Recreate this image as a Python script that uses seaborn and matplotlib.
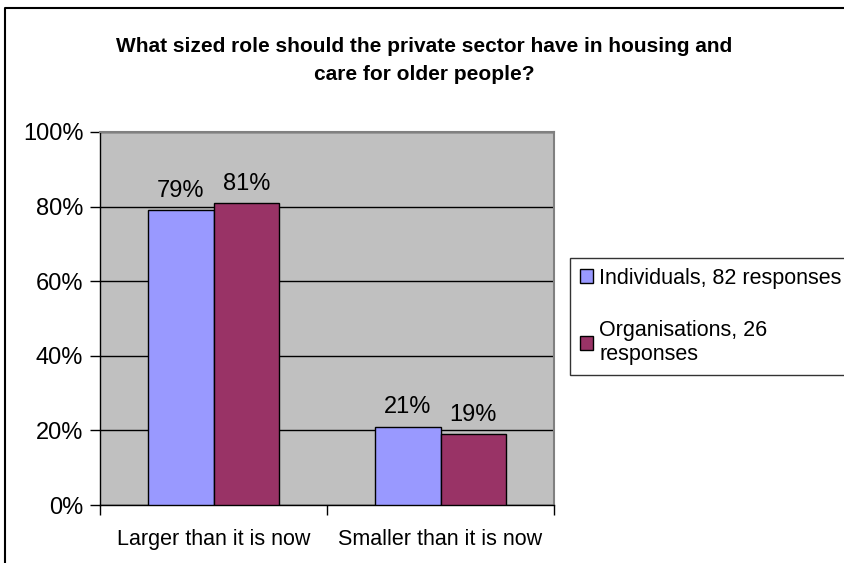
import matplotlib
matplotlib.use("Agg")
import matplotlib.pyplot as plt
import matplotlib.patches as mpatches
from matplotlib.lines import Line2D
from matplotlib.ticker import FuncFormatter
import seaborn as sns
import pandas as pd

# Survey results
categories = ["Larger than it is now", "Smaller than it is now"]
groups = ["Individuals, 82 responses", "Organisations, 26\nresponses"]
individuals = [0.79, 0.21]
organisations = [0.81, 0.19]
colors = ["#9999FF", "#993366"]
title = "What sized role should the private sector have in housing and\ncare for older people?"

df = pd.DataFrame({
    "answer": categories * 2,
    "group": [groups[0]] * 2 + [groups[1]] * 2,
    "share": individuals + organisations,
})

sns.set_style("white")
plt.rcParams["font.family"] = ["Liberation Sans", "DejaVu Sans"]
plt.rcParams["text.color"] = "black"
plt.rcParams["xtick.color"] = "black"
plt.rcParams["ytick.color"] = "black"
plt.rcParams["axes.labelcolor"] = "black"

W, H = 845, 563
fig = plt.figure(figsize=(W / 100, H / 100), dpi=100)
ax = fig.add_axes([100 / W, (H - 505) / H, (554 - 100) / W, (505 - 132) / H])

sns.barplot(data=df, x="answer", y="share", hue="group", order=categories,
            hue_order=groups, palette=colors, saturation=1, width=0.58, gap=0,
            edgecolor="black", linewidth=1, ax=ax, legend=False, zorder=3)

ax.set_facecolor("#C0C0C0")
ax.set_xlim(-0.5, 1.5)
ax.set_ylim(0, 1)
ax.set_yticks([0, 0.2, 0.4, 0.6, 0.8, 1.0])
ax.yaxis.set_major_formatter(FuncFormatter(lambda v, _: f"{v * 100:.0f}%"))
ax.yaxis.grid(True, color="black", linewidth=1, zorder=1)
ax.set_axisbelow(True)
ax.set_xlabel("")
ax.set_ylabel("")

ax.set_xticks([0, 1])
ax.set_xticklabels(categories, fontsize=15.5, color="black")
ax.set_xticks([-0.5, 0.5, 1.5], minor=True)
ax.tick_params(axis="x", which="major", length=0, pad=17, labelcolor="black")
ax.tick_params(axis="x", which="minor", length=7, width=1, color="black",
               direction="out", bottom=True)
ax.tick_params(axis="y", length=7, width=1, color="black", direction="out",
               left=True, labelsize=17, pad=5, labelcolor="black")

for side in ("left", "bottom"):
    ax.spines[side].set_color("black")
    ax.spines[side].set_linewidth(1)
for side in ("top", "right"):
    ax.spines[side].set_color("#808080")
    ax.spines[side].set_linewidth(1.5)

# Value labels above each bar
for container in ax.containers:
    ax.bar_label(container, labels=[f"{v * 100:.0f}%" for v in container.datavalues],
                 padding=6, fontsize=17, color="black")

fig.suptitle(title, x=(118 + 730) / 2 / W, y=1 - 37 / H, fontsize=15,
             fontweight="bold", linespacing=1.6, va="top", color="black")

handles = [mpatches.Patch(facecolor=c, edgecolor="black", linewidth=1) for c in colors]
leg = fig.legend(handles, groups, loc="upper left",
                 bbox_to_anchor=(570 / W, 1 - 258 / H), fontsize=15.5,
                 frameon=True, fancybox=False, edgecolor="black",
                 handlelength=0.6, handleheight=0.6, handletextpad=0.3,
                 labelspacing=1.45, borderpad=0.45, borderaxespad=0,
                 labelcolor="black")
leg.get_frame().set_linewidth(1)

# Outer chart frame (left and top edges; the rest runs off the canvas)
frame = Line2D([5 / W, 5 / W, 1.2], [-0.2, 1 - 8 / H, 1 - 8 / H],
               transform=fig.transFigure, color="black", linewidth=1.5)
fig.add_artist(frame)

fig.savefig("out.png", dpi=100)
